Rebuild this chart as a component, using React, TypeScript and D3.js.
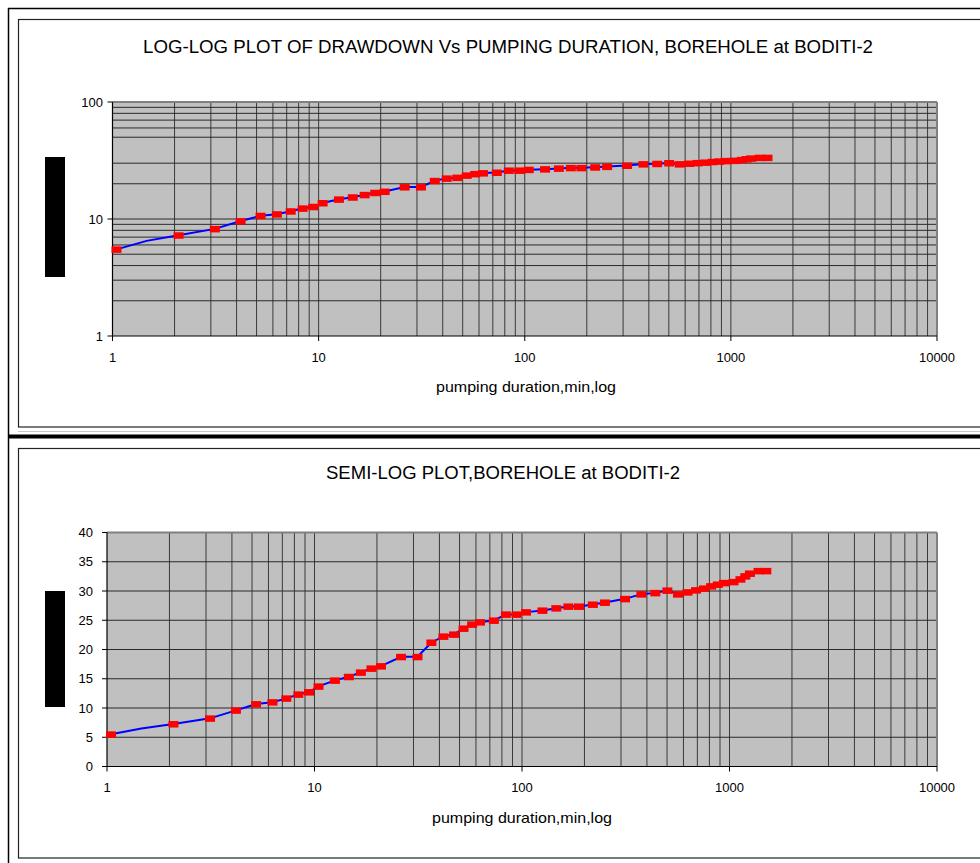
import React, { useEffect } from "react";
import * as d3 from "d3";

// ---- data ----
const times = [1, 1.4, 2, 3, 4, 5, 6, 7, 8, 9, 10, 12, 14, 16, 18, 20, 25, 30, 35, 40, 45, 50, 55, 60, 70, 80, 90, 100, 120, 140, 160, 180, 210, 240, 300, 360, 420, 480, 540, 600, 660, 720, 780, 840, 900, 1000, 1080, 1140, 1200, 1320, 1440];
const drawdown = [5.5, 6.5, 7.26, 8.23, 9.6, 10.67, 11.0, 11.65, 12.33, 12.72, 13.7, 14.72, 15.34, 16.09, 16.77, 17.16, 18.75, 18.75, 21.2, 22.24, 22.58, 23.6, 24.29, 24.68, 24.97, 26.0, 26.0, 26.39, 26.68, 27.07, 27.36, 27.36, 27.7, 28.04, 28.66, 29.46, 29.68, 30.1, 29.46, 29.8, 30.15, 30.44, 30.83, 31.12, 31.39, 31.56, 32.02, 32.54, 33.0, 33.44, 33.44];
const hiddenMarkerTimes = [1.4];
const xTickValues = [1, 10, 100, 1000, 10000];
const xTickLabels = ["1", "10", "100", "1000", "10000"];
const yTopTicks = [1, 10, 100];
const yTopTickLabels = ["1", "10", "100"];
const yTopGrid = [2, 3, 4, 5, 6, 7, 8, 9, 10, 20, 30, 50, 60, 70, 80, 90];
const yBottomTicks = [0, 5, 10, 15, 20, 25, 30, 35, 40];
const titleTop = "LOG-LOG PLOT OF DRAWDOWN Vs PUMPING DURATION, BOREHOLE at BODITI-2";
const titleBottom = "SEMI-LOG PLOT,BOREHOLE at BODITI-2";
const xAxisTitle = "pumping duration,min,log";

const FONT = "'Liberation Sans', Arial, sans-serif";
const xGrid: number[] = [];
[1, 10, 100, 1000].forEach((d) => {
  for (let k = 1; k <= 9; k++) {
    const v = k * d;
    if (v > 1) xGrid.push(v);
  }
});

type Pt = { t: number; s: number };
const points: Pt[] = times.map((t, i) => ({ t, s: drawdown[i] }));

function Chart(props: {
  x: d3.ScaleLogarithmic<number, number>;
  y: any;
  yTicks: number[];
  yTickLabels: string[];
  yGrid: number[];
  title: string;
  titleX: number;
  titleY: number;
  titleLen: number;
  xLabelY: number;
  axisTitleY: number;
  axisTitleX: number;
  yLabelX: number;
  redact: { x: number; y: number; w: number; h: number };
}) {
  const { x, y } = props;
  const [x0, x1] = x.range();
  const yr = y.range();
  const yb = yr[0];
  const yt = yr[yr.length - 1];
  const line = d3
    .line<Pt>()
    .x((d) => x(d.t))
    .y((d) => y(d.s));
  const labelScale = d3.scaleLog().domain([1, 10000]).range([x0, x1]);
  return (
    <g>
      <text
        x={props.titleX}
        y={props.titleY}
        textAnchor="middle"
        fontFamily={FONT}
        fontSize={18}
        textLength={props.titleLen}
        lengthAdjust="spacingAndGlyphs"
        fill="#000"
      >
        {props.title}
      </text>
      <rect x={x0} y={yt} width={x1 - x0} height={yb - yt} fill="#C0C0C0" />
      {xGrid.map((v) => (
        <line key={"vx" + v} x1={x(v)} x2={x(v)} y1={yt} y2={yb} stroke="#3a3a3a" strokeWidth={1} />
      ))}
      {props.yGrid.map((v) => (
        <line key={"hy" + v} x1={x0} x2={x1} y1={y(v)} y2={y(v)} stroke="#2a2a2a" strokeWidth={1} />
      ))}
      <line x1={x0} x2={x1} y1={yt} y2={yt} stroke="#808080" strokeWidth={2} />
      <line x1={x1} x2={x1} y1={yt} y2={yb} stroke="#808080" strokeWidth={2} />
      <line x1={x0} x2={x0} y1={yt} y2={yb} stroke="#000" strokeWidth={1.2} />
      <line x1={x0} x2={x1} y1={yb} y2={yb} stroke="#000" strokeWidth={1.2} />
      {props.yTicks.map((v, i) => (
        <g key={"yt" + v}>
          <line x1={x0 - 5} x2={x0} y1={y(v)} y2={y(v)} stroke="#000" />
          <text
            x={props.yLabelX}
            y={y(v)}
            textAnchor="end"
            dominantBaseline="central"
            fontFamily={FONT}
            fontSize={13}
          >
            {props.yTickLabels[i]}
          </text>
        </g>
      ))}
      {xTickValues.map((v, i) => (
        <g key={"xt" + v}>
          <line x1={x(v)} x2={x(v)} y1={yb} y2={yb + 5} stroke="#000" />
          <text
            x={labelScale(v)}
            y={props.xLabelY}
            textAnchor="middle"
            dominantBaseline="central"
            fontFamily={FONT}
            fontSize={13}
          >
            {xTickLabels[i]}
          </text>
        </g>
      ))}
      <text
        x={props.axisTitleX}
        y={props.axisTitleY}
        textAnchor="middle"
        dominantBaseline="central"
        fontFamily={FONT}
        fontSize={14.5}
        textLength={180}
        lengthAdjust="spacingAndGlyphs"
      >
        {xAxisTitle}
      </text>
      <g transform="translate(4,0)">
        <path d={line(points) || ""} fill="none" stroke="#0000FF" strokeWidth={2} />
        {points
          .filter((p) => !hiddenMarkerTimes.includes(p.t))
          .map((p) => (
            <rect key={"m" + p.t} x={x(p.t) - 5} y={y(p.s) - 3} width={10} height={6.5} fill="#FF0000" />
          ))}
      </g>
      <rect x={props.redact.x} y={props.redact.y} width={props.redact.w} height={props.redact.h} fill="#000" />
    </g>
  );
}

export default function App() {
  useEffect(() => {
    document.body.style.margin = "0";
  }, []);

  const xTop = d3.scaleLog().domain([1, 10000]).range([112.5, 937]);
  const yTop = d3.scaleLog().domain([1, 100]).range([336, 102]);
  const xBot = d3.scaleLog().domain([1, 10000]).range([107, 937]);
  const yBot = d3.scaleLinear().domain([0, 40]).range([766.5, 532.5]);

  return (
    <svg width={980} height={863} style={{ display: "block", background: "#fff" }}>
      <line x1={8} x2={980} y1={8.5} y2={8.5} stroke="#000" strokeWidth={1.5} />
      <line x1={8.5} x2={8.5} y1={8} y2={863} stroke="#000" strokeWidth={1.5} />
      <rect x={18.5} y={19.5} width={1000} height={407.5} fill="none" stroke="#222" strokeWidth={1.2} />
      <line x1={18} x2={980} y1={431.5} y2={431.5} stroke="#c8c8c8" strokeWidth={1} />
      <line x1={8} x2={980} y1={436.5} y2={436.5} stroke="#000" strokeWidth={4} />
      <rect x={18.5} y={448.5} width={1000} height={409.5} fill="none" stroke="#222" strokeWidth={1.2} />

      <Chart
        x={xTop}
        y={yTop}
        yTicks={yTopTicks}
        yTickLabels={yTopTickLabels}
        yGrid={yTopGrid}
        title={titleTop}
        titleX={508}
        titleY={53}
        titleLen={730}
        xLabelY={357}
        axisTitleY={387}
        axisTitleX={526}
        yLabelX={103}
        redact={{ x: 45, y: 157, w: 20, h: 120 }}
      />
      <Chart
        x={xBot}
        y={yBot}
        yTicks={yBottomTicks}
        yTickLabels={yBottomTicks.map(String)}
        yGrid={yBottomTicks.filter((v) => v > 0 && v < 40)}
        title={titleBottom}
        titleX={503}
        titleY={479}
        titleLen={354}
        xLabelY={787}
        axisTitleY={818}
        axisTitleX={522}
        yLabelX={93}
        redact={{ x: 45, y: 591, w: 20, h: 116 }}
      />
    </svg>
  );
}
